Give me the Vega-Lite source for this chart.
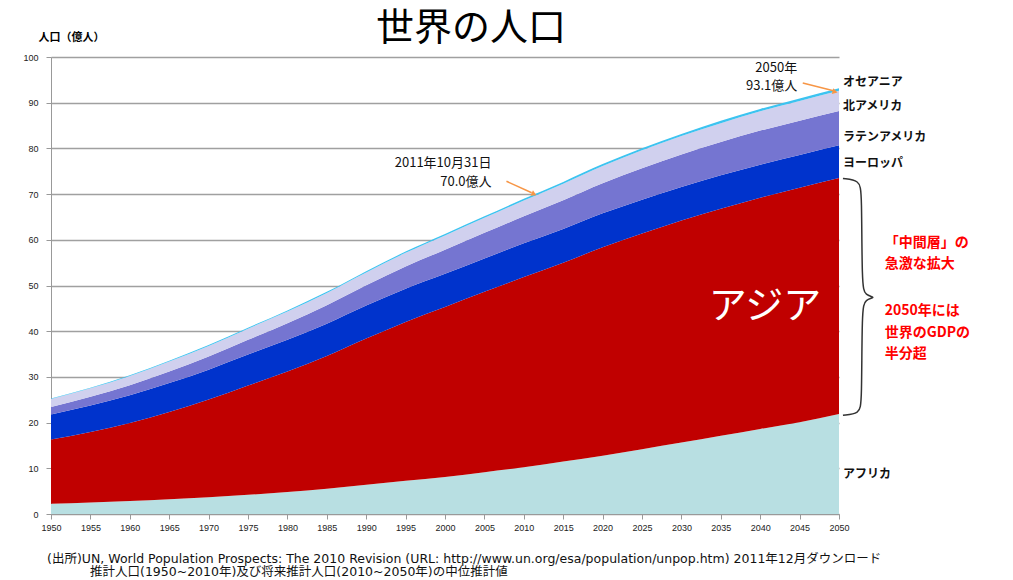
{
  "$schema": "https://vega.github.io/schema/vega-lite/v6.json",
  "width": 788,
  "height": 457,
  "autosize": {"type": "none"},
  "padding": {"left": 51, "top": 57, "right": 174, "bottom": 66},
  "background": "white",
  "config": {
    "view": {"stroke": null},
    "font": "Liberation Sans"
  },
  "datasets": {
    "pop": [
      {"year": 1950, "Africa": 2.27, "Asia": 14.03, "Europe": 5.47, "LatinAmerica": 1.67, "NorthAmerica": 1.72, "Oceania": 0.13},
      {"year": 1955, "Africa": 2.54, "Asia": 15.42, "Europe": 5.76, "LatinAmerica": 1.91, "NorthAmerica": 1.87, "Oceania": 0.14},
      {"year": 1960, "Africa": 2.86, "Asia": 17.07, "Europe": 6.04, "LatinAmerica": 2.20, "NorthAmerica": 2.04, "Oceania": 0.16},
      {"year": 1965, "Africa": 3.24, "Asia": 19.06, "Europe": 6.35, "LatinAmerica": 2.52, "NorthAmerica": 2.19, "Oceania": 0.18},
      {"year": 1970, "Africa": 3.68, "Asia": 21.35, "Europe": 6.56, "LatinAmerica": 2.87, "NorthAmerica": 2.31, "Oceania": 0.20},
      {"year": 1975, "Africa": 4.19, "Asia": 23.93, "Europe": 6.76, "LatinAmerica": 3.24, "NorthAmerica": 2.43, "Oceania": 0.21},
      {"year": 1980, "Africa": 4.82, "Asia": 26.35, "Europe": 6.94, "LatinAmerica": 3.64, "NorthAmerica": 2.54, "Oceania": 0.23},
      {"year": 1985, "Africa": 5.55, "Asia": 29.03, "Europe": 7.06, "LatinAmerica": 4.05, "NorthAmerica": 2.67, "Oceania": 0.25},
      {"year": 1990, "Africa": 6.40, "Asia": 31.99, "Europe": 7.21, "LatinAmerica": 4.46, "NorthAmerica": 2.81, "Oceania": 0.27},
      {"year": 1995, "Africa": 7.27, "Asia": 34.77, "Europe": 7.27, "LatinAmerica": 4.86, "NorthAmerica": 2.97, "Oceania": 0.29},
      {"year": 2000, "Africa": 8.11, "Asia": 37.19, "Europe": 7.27, "LatinAmerica": 5.26, "NorthAmerica": 3.13, "Oceania": 0.31},
      {"year": 2005, "Africa": 9.16, "Asia": 39.45, "Europe": 7.29, "LatinAmerica": 5.62, "NorthAmerica": 3.28, "Oceania": 0.33},
      {"year": 2010, "Africa": 10.22, "Asia": 41.64, "Europe": 7.38, "LatinAmerica": 5.90, "NorthAmerica": 3.45, "Oceania": 0.37},
      {"year": 2015, "Africa": 11.48, "Asia": 43.50, "Europe": 7.40, "LatinAmerica": 6.30, "NorthAmerica": 3.60, "Oceania": 0.39},
      {"year": 2020, "Africa": 12.76, "Asia": 45.60, "Europe": 7.43, "LatinAmerica": 6.60, "NorthAmerica": 3.75, "Oceania": 0.42},
      {"year": 2025, "Africa": 14.17, "Asia": 47.20, "Europe": 7.41, "LatinAmerica": 6.90, "NorthAmerica": 3.90, "Oceania": 0.45},
      {"year": 2030, "Africa": 15.62, "Asia": 48.60, "Europe": 7.36, "LatinAmerica": 7.10, "NorthAmerica": 4.02, "Oceania": 0.47},
      {"year": 2035, "Africa": 17.10, "Asia": 49.70, "Europe": 7.30, "LatinAmerica": 7.30, "NorthAmerica": 4.13, "Oceania": 0.50},
      {"year": 2040, "Africa": 18.60, "Asia": 50.60, "Europe": 7.24, "LatinAmerica": 7.45, "NorthAmerica": 4.23, "Oceania": 0.52},
      {"year": 2045, "Africa": 20.10, "Asia": 51.30, "Europe": 7.17, "LatinAmerica": 7.50, "NorthAmerica": 4.32, "Oceania": 0.54},
      {"year": 2050, "Africa": 21.90, "Asia": 51.60, "Europe": 7.19, "LatinAmerica": 7.50, "NorthAmerica": 4.40, "Oceania": 0.55}
    ]
  },
  "encoding": {
    "x": {
      "field": "year", "type": "quantitative",
      "scale": {"domain": [1950, 2050], "nice": false, "zero": false},
      "axis": {
        "title": null,
        "values": [1950, 1955, 1960, 1965, 1970, 1975, 1980, 1985, 1990, 1995, 2000, 2005, 2010, 2015, 2020, 2025, 2030, 2035, 2040, 2045, 2050],
        "format": "d",
        "grid": false,
        "labelOverlap": false,
        "labelFontSize": 9,
        "labelColor": "#222222",
        "labelPadding": 4,
        "labelFlush": false,
        "tickSize": 5,
        "tickColor": "#999999",
        "domainColor": "#999999"
      }
    },
    "y": {
      "field": "value", "type": "quantitative",
      "scale": {"domain": [0, 100], "nice": false},
      "axis": {
        "title": "人口（億人）",
        "titleAngle": 0,
        "titleAlign": "left",
        "titleBaseline": "middle",
        "titleX": -13,
        "titleY": -20,
        "titleFont": "Noto Sans CJK JP",
        "titleFontSize": 11,
        "titleFontWeight": "bold",
        "titleColor": "#000000",
        "values": [0, 10, 20, 30, 40, 50, 60, 70, 80, 90, 100],
        "grid": true,
        "gridColor": "#A0A0A0",
        "gridWidth": 1.3,
        "labelFontSize": 9,
        "labelColor": "#222222",
        "labelPadding": 8,
        "tickSize": 5,
        "tickColor": "#999999",
        "domainColor": "#999999"
      }
    }
  },
  "layer": [
    {
      "data": {"name": "pop"},
      "transform": [
        {"fold": ["Africa", "Asia", "Europe", "LatinAmerica", "NorthAmerica", "Oceania"], "as": ["region", "value"]},
        {"lookup": "region", "from": {"data": {"values": [
          {"region": "Africa", "rank": 1},
          {"region": "Asia", "rank": 2},
          {"region": "Europe", "rank": 3},
          {"region": "LatinAmerica", "rank": 4},
          {"region": "NorthAmerica", "rank": 5},
          {"region": "Oceania", "rank": 6}
        ]}, "key": "region", "fields": ["rank"]}}
      ],
      "mark": {"type": "area", "interpolate": "monotone"},
      "encoding": {
        "color": {
          "field": "region", "type": "nominal",
          "scale": {
            "domain": ["Africa", "Asia", "Europe", "LatinAmerica", "NorthAmerica", "Oceania"],
            "range": ["#B8DFE2", "#C00000", "#0033CC", "#7575D1", "#D0D0EE", "#3CC3F0"]
          },
          "legend": null
        },
        "order": {"field": "rank", "type": "quantitative"}
      }
    },
    {
      "data": {"values": [
        {"i": 0, "year": 2050.5, "value": 73.4},
        {"i": 1, "year": 2052.6, "value": 73.0},
        {"i": 2, "year": 2052.9, "value": 70.5},
        {"i": 3, "year": 2052.9, "value": 50.0},
        {"i": 4, "year": 2053.3, "value": 47.8},
        {"i": 5, "year": 2054.8, "value": 47.4},
        {"i": 6, "year": 2053.3, "value": 47.0},
        {"i": 7, "year": 2052.9, "value": 44.8},
        {"i": 8, "year": 2052.9, "value": 24.3},
        {"i": 9, "year": 2052.6, "value": 22.0},
        {"i": 10, "year": 2050.5, "value": 21.6}
      ]},
      "mark": {"type": "line", "interpolate": "basis", "color": "#333333", "strokeWidth": 1.5},
      "encoding": {
        "order": {"field": "i", "type": "quantitative"}
      }
    },
    {
      "data": {"values": [
        {"arrow": "a", "year": 2045.4, "value": 94.3},
        {"arrow": "a", "year": 2049.3, "value": 92.6},
        {"arrow": "b", "year": 2007.8, "value": 72.8},
        {"arrow": "b", "year": 2011.0, "value": 70.3}
      ]},
      "mark": {"type": "line", "color": "#F79646", "strokeWidth": 1.5},
      "encoding": {
        "detail": {"field": "arrow", "type": "nominal"}
      }
    },
    {
      "data": {"values": [
        {"year": 2049.5, "value": 92.4, "angle": 15},
        {"year": 2011.3, "value": 70.0, "angle": 25}
      ]},
      "mark": {"type": "point", "shape": "triangle-right", "filled": true, "color": "#F79646", "size": 35, "opacity": 1},
      "encoding": {
        "angle": {"field": "angle", "type": "quantitative", "scale": null}
      }
    },
    {
      "data": {"values": [
        {"year": 2003.3, "value": 106.1, "label": "世界の人口"}
      ]},
      "mark": {"type": "text", "align": "center", "baseline": "middle", "font": "Noto Sans CJK JP", "fontSize": 38, "color": "#000000"},
      "encoding": {
        "text": {"field": "label"}
      }
    },
    {
      "data": {"values": [
        {"year": 2050.5, "value": 94.5, "label": "オセアニア"},
        {"year": 2050.5, "value": 89.3, "label": "北アメリカ"},
        {"year": 2050.5, "value": 82.5, "label": "ラテンアメリカ"},
        {"year": 2050.5, "value": 76.9, "label": "ヨーロッパ"},
        {"year": 2050.5, "value": 8.7, "label": "アフリカ"}
      ]},
      "mark": {"type": "text", "align": "left", "baseline": "middle", "font": "Noto Sans CJK JP", "fontSize": 12, "fontWeight": "bold", "color": "#111111"},
      "encoding": {
        "text": {"field": "label"}
      }
    },
    {
      "data": {"values": [
        {"year": 2044.7, "value": 97.7, "label": "2050年"},
        {"year": 2044.7, "value": 93.7, "label": "93.1億人"},
        {"year": 2005.9, "value": 76.9, "label": "2011年10月31日"},
        {"year": 2005.9, "value": 72.6, "label": "70.0億人"}
      ]},
      "mark": {"type": "text", "align": "right", "baseline": "middle", "font": "Noto Sans CJK JP", "fontSize": 13, "color": "#111111"},
      "encoding": {
        "text": {"field": "label"}
      }
    },
    {
      "data": {"values": [
        {"year": 2055.8, "value": 59.2, "label": "「中間層」の"},
        {"year": 2055.8, "value": 54.7, "label": "急激な拡大"},
        {"year": 2055.8, "value": 44.5, "label": "2050年には"},
        {"year": 2055.8, "value": 39.5, "label": "世界のGDPの"},
        {"year": 2055.8, "value": 35.1, "label": "半分超"}
      ]},
      "mark": {"type": "text", "align": "left", "baseline": "middle", "font": "Noto Sans CJK JP", "fontSize": 14, "fontWeight": "bold", "color": "#FF0000"},
      "encoding": {
        "text": {"field": "label"}
      }
    },
    {
      "data": {"values": [
        {"year": 2040.6, "value": 45.2, "label": "アジア"}
      ]},
      "mark": {"type": "text", "align": "center", "baseline": "middle", "font": "Noto Sans CJK JP", "fontSize": 38, "color": "#FFFFFF"},
      "encoding": {
        "text": {"field": "label"}
      }
    },
    {
      "data": {"values": [
        {"year": 1949.5, "value": -9.83, "label": "(出所)UN, World Population Prospects: The 2010 Revision (URL: http://www.un.org/esa/population/unpop.htm) 2011年12月ダウンロード"}
      ]},
      "mark": {"type": "text", "align": "left", "baseline": "middle", "font": "DejaVu Sans, Noto Sans CJK JP", "fontSize": 12.5, "color": "#111111"},
      "encoding": {
        "text": {"field": "label"}
      }
    },
    {
      "data": {"values": [
        {"year": 1954.95, "value": -12.7, "label": "推計人口(1950~2010年)及び将来推計人口(2010~2050年)の中位推計値"}
      ]},
      "mark": {"type": "text", "align": "left", "baseline": "middle", "font": "DejaVu Sans, Noto Sans CJK JP", "fontSize": 12.5, "color": "#111111"},
      "encoding": {
        "text": {"field": "label"}
      }
    }
  ]
}
